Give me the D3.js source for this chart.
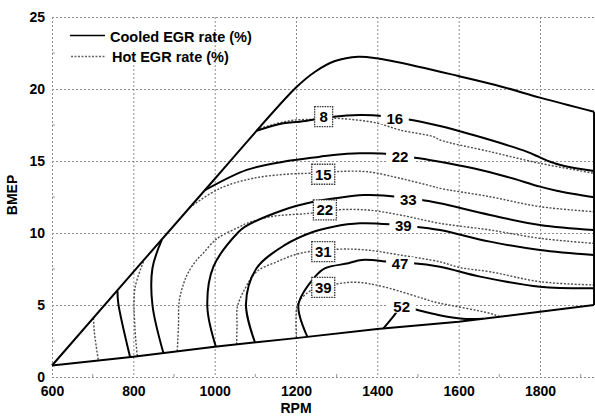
<!DOCTYPE html>
<html lang="en">
<head>
<meta charset="UTF-8">
<title>Cooled vs Hot EGR rate map</title>
<script src="https://d3js.org/d3.v7.min.js"></script>
<style>
  body { margin: 0; background: #fff; }
  svg { display: block; font-family: "Liberation Sans", Arial, sans-serif; }
  .axis text { font-size: 14px; font-weight: bold; fill: #000; }
  .axis-title { font-size: 14px; font-weight: bold; }
  .legend text { font-size: 14.5px; font-weight: bold; }
  .clabel, .hlabel { font-size: 15px; font-weight: bold; }
</style>
</head>
<body>
<svg id="chart" width="595" height="416"></svg>
<script>
// ticks
const rpmTicks = [600, 800, 1000, 1200, 1400, 1600, 1800];
const bmepTicks = [0, 5, 10, 15, 20, 25];
const rpmMinor = [700, 900, 1100, 1300, 1500, 1700, 1900];
const bmepMinor = [2.5, 7.5, 12.5, 17.5, 22.5];

// full load and low load limits (rpm, bmep)
const upperLimit = [[600,0.8],[1000,13.75],[1200,20.1],[1247,21.2],[1296,21.94],[1353,22.24],[1399,22.13],
  [1501,21.55],[1599,20.9],[1706,20.16],[1800,19.4],[1933,18.42]];
const lowerLimit = [[600,0.8],[800,1.41],[1000,2.1],[1200,2.7],[1400,3.33],[1600,3.84],[1800,4.53],[1933,5.0]];

// cooled EGR rate contours (solid)
const cooledA = [[761,5.99],[763,5.12],[792,1.39]];
const cooledB = [[870,9.52],[847,7.55],[847,5.0],[874,1.66]];
const cooled16 = [[1103,17.1],[1169,17.62],[1210,17.73],[1292,18.08],[1357,18.19],[1411,18.13],[1443,17.97],
  [1472,17.9],[1554,17.43],[1636,16.8],[1718,16.11],[1767,15.65],[1800,15.25],[1825,14.95],[1860,14.65],[1933,14.3]];
const cooled22 = [[976,12.97],[1079,14.38],[1169,14.95],[1259,15.3],[1292,15.42],[1357,15.53],[1427,15.49],
  [1456,15.3],[1493,15.23],[1554,14.95],[1636,14.49],[1718,13.91],[1800,13.22],[1841,12.94],[1933,12.48]];
const cooled33 = [[1003,2.1],[982,4.88],[997,7.66],[1058,10.05],[1075,10.44],[1169,11.6],[1243,12.17],[1296,12.41],
  [1366,12.64],[1448,12.52],[1476,12.34],[1509,12.29],[1554,12.06],[1677,11.25],[1800,10.56],[1933,10.21]];
const cooled39 = [[1099,2.42],[1077,5.07],[1103,7.55],[1173,9.17],[1243,10.09],[1292,10.44],[1357,10.67],
  [1431,10.6],[1464,10.49],[1493,10.44],[1554,10.21],[1677,9.4],[1800,8.82],[1933,8.47]];
const cooled47 = [[1228,2.79],[1206,5.0],[1247,6.97],[1271,7.55],[1329,7.9],[1362,8.13],[1427,8.0],[1456,7.9],
  [1488,7.9],[1554,7.66],[1653,6.97],[1800,6.27],[1933,6.16]];
const cooled52 = [[1415,3.38],[1439,4.19],[1460,4.88],[1488,4.72],[1550,4.31],[1610,4.05],[1660,4.05]];

// hot EGR rate contours (dotted)
const hotA = [[702,4.08],[704,3.15],[714,1.15]];
const hotB = [[825,8.0],[804,6.16],[804,3.38],[810,1.45]];
const hot8 = [[1111,17.27],[1185,17.8],[1243,17.9],[1292,17.97],[1349,17.85],[1402,17.62],[1456,17.15],
  [1538,16.69],[1554,16.46],[1677,15.65],[1800,14.84],[1933,14.15]];
const hot15 = [[939,11.78],[1013,13.1],[1095,13.8],[1185,14.1],[1234,14.15],[1296,14.26],[1374,14.26],
  [1456,13.8],[1538,13.22],[1554,13.1],[1677,12.52],[1800,11.83],[1933,11.48]];
const hot22 = [[908,1.8],[911,3.5],[913,5.3],[925,6.6],[935,7.25],[955,8.1],[972,8.6],[997,9.4],[1013,9.75],
  [1062,10.44],[1079,10.67],[1136,11.13],[1234,11.37],[1296,11.6],[1374,11.6],[1456,11.25],[1554,10.67],
  [1677,10.21],[1800,9.63],[1933,9.28]];
const hot31 = [[1054,2.27],[1055,3.6],[1056,4.88],[1075,6.16],[1103,7.31],[1153,8.0],[1210,8.59],[1300,8.87],
  [1374,8.82],[1456,8.47],[1554,8.0],[1603,7.6],[1677,7.31],[1800,6.62],[1933,6.39]];
const hot39 = [[1201,2.75],[1202,4.88],[1210,5.35],[1239,6.04],[1300,6.46],[1349,6.58],[1415,6.27],
  [1538,5.23],[1554,5.12],[1677,4.42],[1700,4.2]];

// contour labels
const cooledLabelText = ["16", "22", "33", "39", "47", "52"];
const cooledLabelRpm = [1443, 1456, 1476, 1464, 1456, 1460];
const cooledLabelBmep = [17.97, 15.3, 12.34, 10.49, 7.9, 4.88];
const hotLabelText = ["8", "15", "22", "31", "39"];
const hotLabelRpm = [1268, 1267, 1271, 1267, 1267];
const hotLabelBmep = [18.08, 14.08, 11.6, 8.7, 6.22];

const legendText = ["Cooled EGR rate (%)", "Hot EGR rate (%)"];

const svg = d3.select("#chart");
const x = d3.scaleLinear().domain([600, 2000]).range([52, 621.3]);
const y = d3.scaleLinear().domain([0, 25]).range([377, 17]);

// grid
const grid = svg.append("g").attr("stroke", "#8c8c8c").attr("stroke-width", 1).attr("stroke-dasharray", "2,2");
grid.selectAll(".gx").data(rpmTicks).enter().append("line")
  .attr("x1", d => x(d) + 0.5).attr("x2", d => x(d) + 0.5)
  .attr("y1", y(25)).attr("y2", y(0));
grid.selectAll(".gy").data(bmepTicks).enter().append("line")
  .attr("x1", x(600)).attr("x2", x(2000))
  .attr("y1", d => y(d) + 0.5).attr("y2", d => y(d) + 0.5);
const minor = svg.append("g").attr("stroke", "#999").attr("stroke-width", 1);
minor.selectAll(".mx").data(rpmMinor).enter().append("line")
  .attr("x1", d => x(d)).attr("x2", d => x(d)).attr("y1", y(0)).attr("y2", y(0) - 3);
minor.selectAll(".my").data(bmepMinor).enter().append("line")
  .attr("x1", x(600)).attr("x2", x(600) + 3).attr("y1", d => y(d)).attr("y2", d => y(d));

// axes
svg.append("g").attr("class", "axis").attr("transform", `translate(0,${y(0)})`)
  .call(d3.axisBottom(x).tickValues(rpmTicks).tickFormat(d3.format("d")).tickSize(0).tickPadding(9))
  .call(g => g.select(".domain").remove());
svg.append("g").attr("class", "axis").attr("transform", `translate(${x(600)},0)`)
  .call(d3.axisLeft(y).tickValues(bmepTicks).tickSize(0).tickPadding(7))
  .call(g => g.select(".domain").remove());
svg.append("text").attr("class", "axis-title").attr("x", 296).attr("y", 413)
  .attr("text-anchor", "middle").text("RPM");
svg.append("text").attr("class", "axis-title").attr("transform", "translate(17,195) rotate(-90)")
  .attr("text-anchor", "middle").text("BMEP");

// legend
const legend = svg.append("g").attr("class", "legend");
legend.append("rect").attr("x", 56).attr("y", 19).attr("width", 150).attr("height", 44).attr("fill", "#fff");
legend.append("line").attr("x1", 70).attr("x2", 105).attr("y1", 35.5).attr("y2", 35.5)
  .attr("stroke", "#000").attr("stroke-width", 1.6);
legend.append("line").attr("x1", 71).attr("x2", 105).attr("y1", 56.5).attr("y2", 56.5)
  .attr("stroke", "#666").attr("stroke-width", 1.3).attr("stroke-dasharray", "2,1.5");
legend.append("text").attr("x", 110).attr("y", 41.5).text(legendText[0]);
legend.append("text").attr("x", 112).attr("y", 61.5).text(legendText[1]);

const line = d3.line().x(d => x(d[0])).y(d => y(d[1])).curve(d3.curveCatmullRom.alpha(0.5));

// hot contours
[hotA, hotB, hot8, hot15, hot22, hot31, hot39].forEach(arr => {
  svg.append("path").attr("d", line(arr)).attr("fill", "none")
    .attr("stroke", "#4d4d4d").attr("stroke-width", 1.4).attr("stroke-dasharray", "2,1.6");
});

// cooled contours
[cooledA, cooledB, cooled16, cooled22, cooled33, cooled39, cooled47, cooled52].forEach(arr => {
  svg.append("path").attr("d", line(arr)).attr("fill", "none")
    .attr("stroke", "#000").attr("stroke-width", 2);
});

// operating limits
const straight = d3.line().x(d => x(d[0])).y(d => y(d[1]));
svg.append("path").attr("d", line(upperLimit)).attr("fill", "none").attr("stroke", "#000").attr("stroke-width", 2);
svg.append("path").attr("d", straight(lowerLimit)).attr("fill", "none").attr("stroke", "#000").attr("stroke-width", 2);
svg.append("path").attr("d", straight([lowerLimit[lowerLimit.length - 1], upperLimit[upperLimit.length - 1]]))
  .attr("fill", "none").attr("stroke", "#000").attr("stroke-width", 2);

// cooled labels (plain, break the line)
cooledLabelText.forEach((t, i) => {
  const cx = x(cooledLabelRpm[i]), cy = y(cooledLabelBmep[i]);
  svg.append("rect").attr("x", cx - 14).attr("y", cy - 6).attr("width", 28).attr("height", 12).attr("fill", "#fff");
  svg.append("text").attr("class", "clabel").attr("x", cx).attr("y", cy + 5.5)
    .attr("text-anchor", "middle").text(t);
});

// hot labels (boxed)
hotLabelText.forEach((t, i) => {
  const cx = x(hotLabelRpm[i]), cy = y(hotLabelBmep[i]);
  const w = t.length > 1 ? 23 : 18;
  svg.append("rect").attr("x", cx - w / 2).attr("y", cy - 10).attr("width", w).attr("height", 20)
    .attr("fill", "#fff").attr("stroke", "#333").attr("stroke-width", 1.3).attr("stroke-dasharray", "1.5,1");
  svg.append("text").attr("class", "hlabel").attr("x", cx).attr("y", cy + 5.5)
    .attr("text-anchor", "middle").text(t);
});
</script>
</body>
</html>
